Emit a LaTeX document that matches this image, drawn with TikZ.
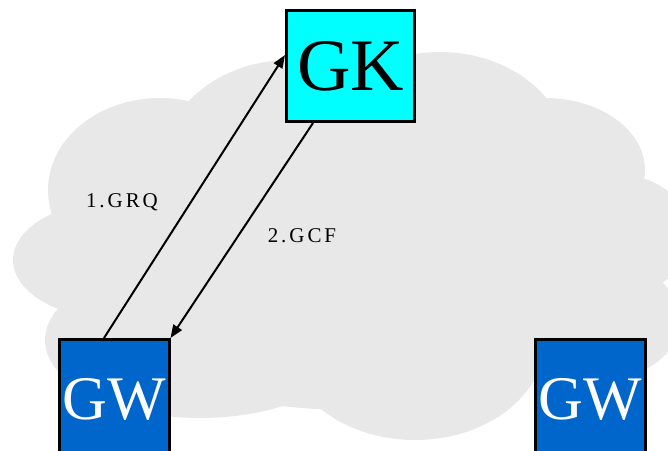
\documentclass[tikz,border=0pt]{standalone}
\usepackage{fontspec}
\setmainfont{Liberation Serif}
\newfontfamily\lblfont{Liberation Serif}[LetterSpace=14]
\usetikzlibrary{arrows.meta}
\definecolor{cloudgray}{RGB}{232,232,232}
\definecolor{gkcyan}{RGB}{0,255,255}
\definecolor{gwblue}{RGB}{0,102,204}
\begin{document}
\begin{tikzpicture}[x=1pt,y=-1pt,
  cloudpart/.style={fill=cloudgray,draw=none},
  gkbox/.style={draw=black,line width=3pt,fill=gkcyan,minimum width=128pt,minimum height=111pt,inner sep=0pt,font=\fontsize{74}{74}\selectfont},
  gwbox/.style={draw=black,line width=3pt,fill=gwblue,text=white,minimum width=110pt,minimum height=120pt,inner sep=0pt,font=\fontsize{62}{62}\selectfont},
  msg/.style={draw=black,line width=2pt,-{Triangle[length=13pt,width=10pt]}},
  lbl/.style={font=\lblfont\fontsize{21}{21}\selectfont,inner sep=0pt}]
\useasboundingbox (0,0) rectangle (668,450);
\clip (0,0) rectangle (668,450);
% cloud
\foreach \cx/\cy/\rx/\ry in {350/265/290/145, 160/190/112/92, 290/170/130/110, 440/160/130/108,
  545/170/100/72, 620/235/70/60, 600/320/80/60, 120/260/107/60, 200/340/155/78,
  415/340/130/100, 580/330/80/60}
  \fill[cloudpart] (\cx,\cy) ellipse [x radius=\rx pt, y radius=\ry pt];
% nodes
\node[gkbox] (gk) at (350.5,66) {GK};
\node[gwbox] (gwl) at (114,399.5) {GW};
\node[gwbox] (gwr) at (590,399.5) {GW};
% messages
\draw[msg] ([xshift=-10pt]gwl.north) -- ([yshift=11pt]gk.west);
\draw[msg] ([xshift=-37.5pt]gk.south) -- (gwl.north east);
\node[lbl] (grq) at (122,202) {1.GRQ};
\node[lbl] (gcf) at (302,236) {2.GCF};
\end{tikzpicture}
\end{document}
